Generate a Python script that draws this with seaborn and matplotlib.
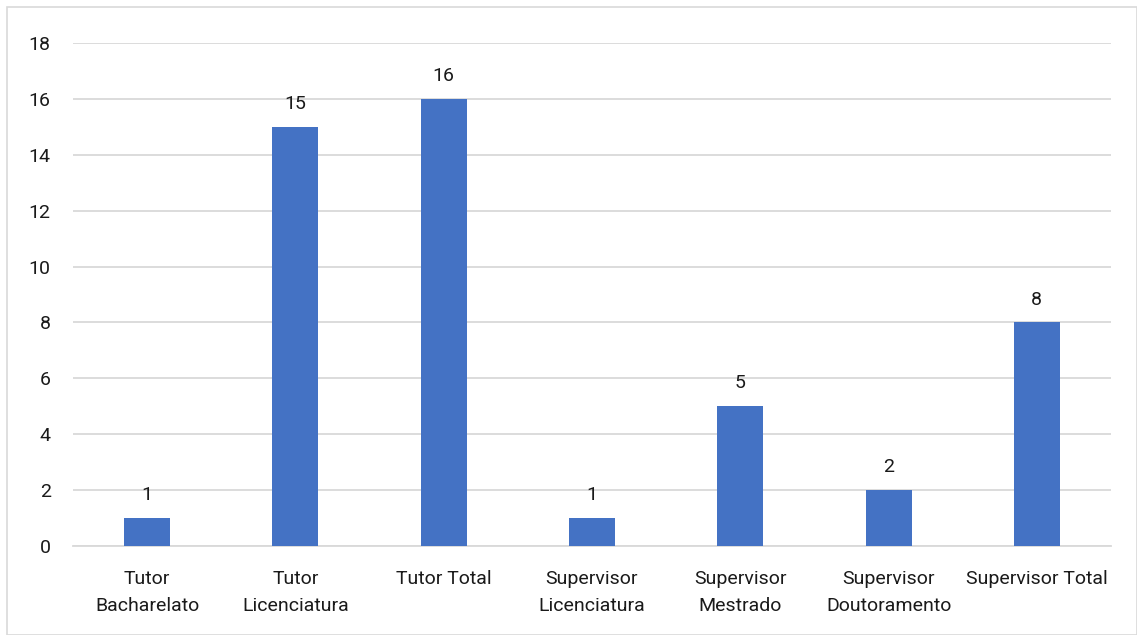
import matplotlib
matplotlib.use("Agg")
import matplotlib.pyplot as plt
import matplotlib.patches as mpatches
import seaborn as sns
import pandas as pd

categories = [
    "Tutor\nBacharelato",
    "Tutor\nLicenciatura",
    "Tutor Total",
    "Supervisor\nLicenciatura",
    "Supervisor\nMestrado",
    "Supervisor\nDoutoramento",
    "Supervisor Total",
]
values = [1, 15, 16, 1, 5, 2, 8]
y_ticks = [0, 2, 4, 6, 8, 10, 12, 14, 16, 18]

sns.set_theme(style="white")
plt.rcParams["font.family"] = ["Roboto", "DejaVu Sans"]

df = pd.DataFrame({"categoria": categories, "valor": values})

fig = plt.figure(figsize=(11.37, 6.35), dpi=100)
ax = fig.add_axes([73 / 1137, 1 - 546 / 635, (1111 - 73) / 1137, (546 - 43) / 635])

sns.barplot(data=df, x="categoria", y="valor", color="#4472C4", saturation=1,
            width=0.31, linewidth=0, ax=ax, zorder=3)

ax.set_ylim(0, 18)
ax.set_yticks(y_ticks)
ax.set_xlim(-0.5, len(categories) - 0.5)
ax.grid(axis="y", color="#D9D9D9", linewidth=1.3, zorder=0)
ax.set_xlabel("")
ax.set_ylabel("")
for side in ["top", "right", "left"]:
    ax.spines[side].set_visible(False)
ax.spines["bottom"].set_color("#D9D9D9")
ax.spines["bottom"].set_linewidth(1.3)
ax.tick_params(axis="both", length=0, labelsize=14, colors="#1a1a1a")
ax.tick_params(axis="y", pad=16)
ax.tick_params(axis="x", pad=17)
for lbl in ax.get_xticklabels():
    lbl.set_linespacing(1.7)

for container in ax.containers:
    ax.bar_label(container, labels=[str(v) for v in values], padding=10,
                 fontsize=14, color="#1a1a1a")

fig.patches.append(mpatches.Rectangle((7 / 1137, 0), 1 - 7 / 1137, 1 - 7 / 635,
                                      transform=fig.transFigure, fill=False,
                                      edgecolor="#D9D9D9", linewidth=1.2))

fig.savefig("out.png", dpi=100)
